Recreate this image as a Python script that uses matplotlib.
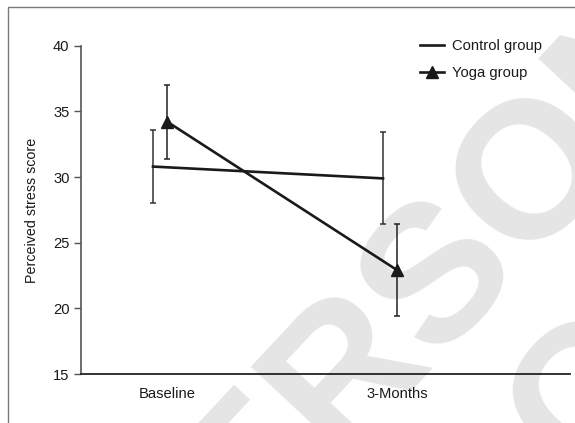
import matplotlib
matplotlib.use("Agg")
import matplotlib.pyplot as plt
from matplotlib.patches import Rectangle

# ------------------------------------------------------------------
# data
# ------------------------------------------------------------------
timepoints = ["Baseline", "3-Months"]
control_mean = [30.8, 29.9]
control_err = [2.8, 3.5]
yoga_mean = [34.2, 22.9]
yoga_err = [2.8, 3.5]

plt.rcParams['font.family'] = ['Liberation Sans', 'DejaVu Sans']

fig = plt.figure(figsize=(5.75, 4.23), dpi=100)
ax = fig.add_axes([0.1403, 0.1154, 0.8510, 0.7766])
ax.set_facecolor('none')

# watermark behind everything
fig.text(160 / 575, 1 - 648 / 423, "PERSONAL", rotation=47, rotation_mode='anchor',
         ha='left', va='baseline', fontsize=140, fontweight='bold', color='#e5e5e5',
         zorder=-5)
fig.text(592 / 575, 1 - 400 / 423, "C", rotation=47, rotation_mode='anchor',
         ha='center', va='center', fontsize=140, fontweight='bold', color='#e5e5e5',
         zorder=-5)

# outer frame (only top and left are visible in the crop)
fig.patches.append(Rectangle((8 / 575, -0.1), 1.2, 1 - 7.5 / 423 + 0.1, transform=fig.transFigure,
                             fill=False, edgecolor='#7a7a7a', linewidth=1.0, zorder=-4))

x = list(range(len(timepoints)))
x_control = [v - 0.063 for v in x]

ax.errorbar(x_control, control_mean, yerr=control_err, fmt='none', ecolor='#333333',
            elinewidth=1.1, capsize=2.2, capthick=1.1, zorder=2)
ax.plot(x_control, control_mean, color='#1a1a1a', linewidth=1.9, label='Control group', zorder=3)

ax.errorbar(x, yoga_mean, yerr=yoga_err, fmt='none', ecolor='#222222',
            elinewidth=1.1, capsize=2.2, capthick=1.1, zorder=2)
ax.plot(x, yoga_mean, color='#1a1a1a', linewidth=1.9, marker='^', markersize=8,
        label='Yoga group', zorder=3)

ax.set_xlim(-0.3774, 1.75)
ax.set_ylim(15, 40)
ax.set_yticks([15, 20, 25, 30, 35, 40])
ax.set_xticks(x)
ax.set_xticklabels(timepoints)
ax.tick_params(axis='x', length=0, pad=9, labelsize=10.6, colors='#1a1a1a')
ax.tick_params(axis='y', length=5, width=1.0, pad=3, labelsize=10.6, colors='#1a1a1a')
ax.tick_params(axis='y', color='#555555')

for side in ('top', 'right'):
    ax.spines[side].set_visible(False)
ax.spines['left'].set_color('#555555')
ax.spines['left'].set_linewidth(1.2)
ax.spines['bottom'].set_color('#222222')
ax.spines['bottom'].set_linewidth(1.3)

ax.set_ylabel('Perceived stress score', fontsize=10.3, color='#1a1a1a', labelpad=10)

ax.legend(loc='upper right', bbox_to_anchor=(0.97, 1.06), frameon=False, fontsize=10.6,
          handlelength=1.6, handletextpad=0.55, labelspacing=0.85, labelcolor='#1a1a1a')

fig.savefig('out.png', dpi=100)
